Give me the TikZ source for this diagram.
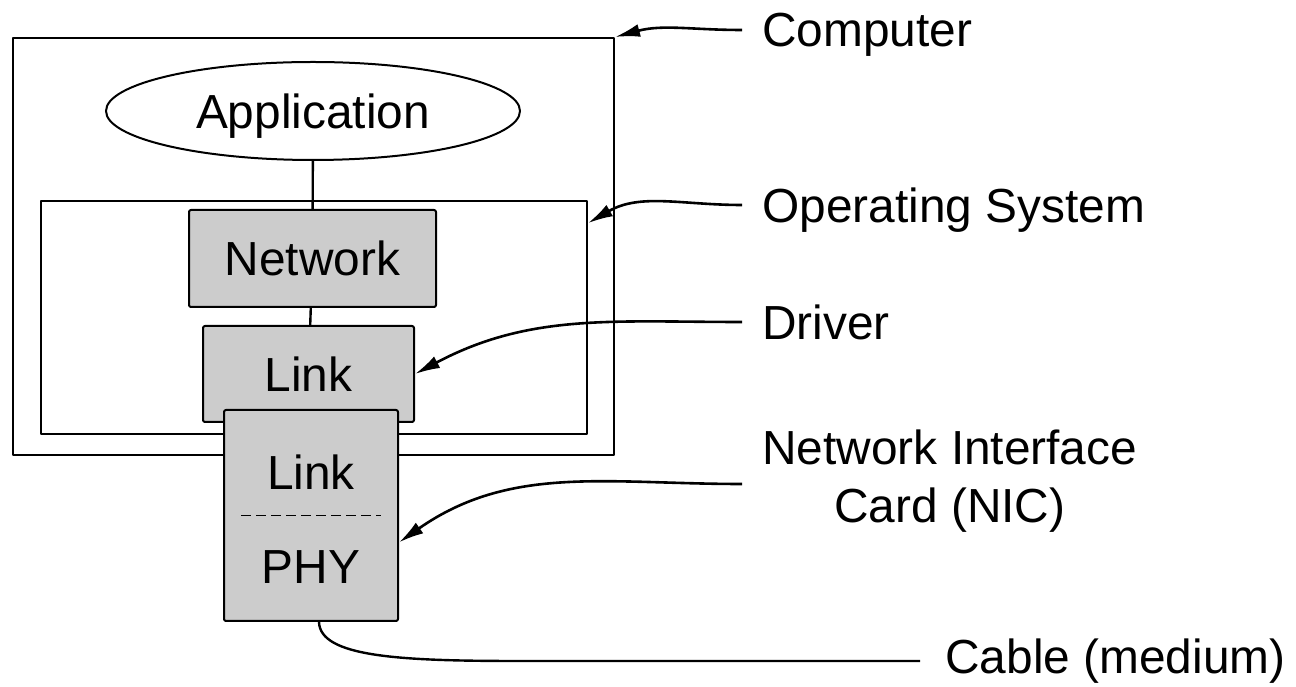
\documentclass[tikz,border=0pt]{standalone}
\usepackage{fontspec}
\setmainfont{Liberation Sans}
\usetikzlibrary{arrows.meta,shapes.geometric}
\begin{document}
\begin{tikzpicture}[>={Latex[length=12.5bp,width=6.5bp]},line join=bevel,
  every node/.style={font=\fontsize{24}{29}\selectfont},
  frame/.style={draw,line width=1bp,inner sep=0pt},
  layer/.style={draw,fill=gray!40,line width=1bp,rounded corners=1bp,inner sep=0pt},
  lbl/.style={anchor=west,inner xsep=10bp,inner ysep=0pt,text depth=0pt},
  pointer/.style={->,line width=1.3bp}]
\useasboundingbox (0bp,0bp) rectangle (648bp,343.5bp);
%%
\node (computer) at (156.75bp,220.25bp) [frame,minimum width=300.5bp,minimum height=208.5bp] {};
  \node (os) at (157.0bp,184.75bp) [frame,minimum width=273bp,minimum height=116.5bp] {};
  \node (app) at (156.5bp,288.0bp) [draw,ellipse,line width=1bp,inner sep=0pt,text depth=0pt,minimum width=207bp,minimum height=49bp] {Application};
  \node (network) at (156.25bp,214.25bp) [layer,minimum width=123.5bp,minimum height=48.5bp] {Network};
  \node (link) at (154.25bp,156.5bp) [layer,minimum width=105.5bp,minimum height=48bp] {Link};
  \node (nic) at (155.5bp,85.75bp) [layer,minimum width=87bp,minimum height=105.5bp] {};
  \node (niclink) at (155.5bp,107.5bp) [draw=none] {Link};
  \node (phy) at (155.5bp,60.0bp) [draw=none] {PHY};
  \draw [line width=1.2bp] (app) -- (network);
  \draw [line width=1.2bp] (network) -- (link);
  \draw [dashed,dash pattern=on 5bp off 2.5bp,line width=0.9bp,shorten <=9bp,shorten >=9bp] (nic.west) -- (nic.east);
%
\node (computerlbl) at (371.0bp,328.5bp) [lbl] {Computer};
  \node (oslbl) at (371.0bp,241.0bp) [lbl] {Operating System};
  \node (driverlbl) at (371.0bp,182.5bp) [lbl] {Driver};
  \node (niclbl) at (371.0bp,105.5bp) [lbl,align=center] {Network Interface\\Card (NIC)};
  \node (cablelbl) at (460.0bp,13.0bp) [lbl,inner xsep=12.5bp,text depth=] {Cable (medium)};
  \draw [pointer] (computerlbl.west) to[out=180,in=15] (computer.north east);
  \draw [pointer] (oslbl.west) to[out=180,in=30] (os.19);
  \draw [pointer] (driverlbl.west) to[out=180,in=28] (link.east);
  \draw [pointer] ([yshift=-4bp]niclbl.west) to[out=180,in=35] (nic.-17);
  \draw [line width=1.2bp] ([xshift=4bp]nic.south) ..controls (160.0bp,15.0bp) and (200.0bp,13.0bp) .. (260.0bp,13.0bp) -- (cablelbl.west);
%
\end{tikzpicture}
\end{document}
